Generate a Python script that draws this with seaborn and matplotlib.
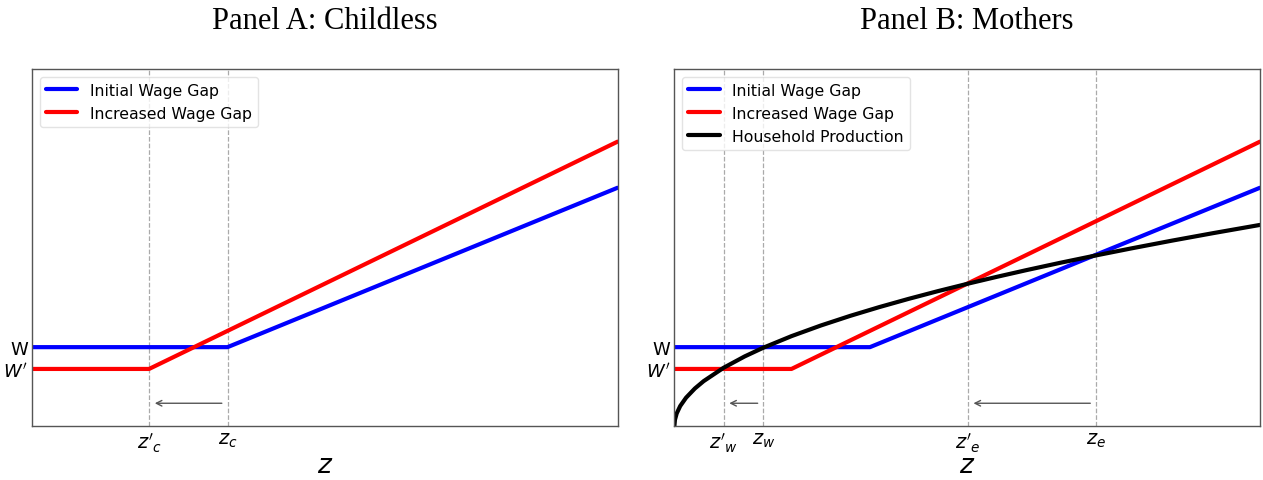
import matplotlib
matplotlib.use("Agg")
import matplotlib.pyplot as plt
import seaborn as sns

# values, in axis fractions (x and y both 0..1)
z_c_new, z_c = 0.2, 0.334
z_w_new, z_w = 0.084, 0.152
z_e_new, z_e = 0.501, 0.72
w_level, w_new_level = 0.221, 0.16
arrow_y = 0.064

# piecewise wage lines (x, y)
initial_x = [0.0, 0.334, 1.0]
initial_y = [0.221, 0.221, 0.667]
increased_x = [0.0, 0.2, 1.0]
increased_y = [0.16, 0.16, 0.796]

# household production curve, sampled from the right panel
household_x = [0.0, 0.001, 0.004, 0.01, 0.02, 0.035, 0.05, 0.084, 0.12, 0.152,
               0.2, 0.25, 0.3, 0.35, 0.4, 0.45, 0.501, 0.55, 0.6, 0.66,
               0.72, 0.78, 0.85, 0.92, 1.0]
household_y = [0.0, 0.0178, 0.0356, 0.0563, 0.0796, 0.1053, 0.1259, 0.1632, 0.195, 0.2195,
               0.2518, 0.2815, 0.3084, 0.3331, 0.3561, 0.3777, 0.3985, 0.4175, 0.4361, 0.4574,
               0.4777, 0.4972, 0.5191, 0.54, 0.563]

sns.set_style("white")
plt.rcParams['text.color'] = 'black'
plt.rcParams['xtick.color'] = 'black'
plt.rcParams['ytick.color'] = 'black'
plt.rcParams['axes.labelcolor'] = 'black'

fig, axes = plt.subplots(1, 2, figsize=(12.63, 4.81), dpi=100)
plt.subplots_adjust(left=0.0253, right=0.9976, bottom=0.112, top=0.855, wspace=0.097)


def setup(ax, title, xticks, xlabels):
    ax.set_xlim(0, 1)
    ax.set_ylim(0, 1)
    for z in xticks:
        ax.axvline(z, color='#aaaaaa', lw=0.9, ls='--', zorder=0)
    ax.set_xticks(xticks)
    ax.set_xticklabels(xlabels, fontsize=14)
    ax.set_yticks([w_new_level, w_level])
    ax.set_yticklabels(["$W'$", "W"], fontsize=13)
    ax.tick_params(axis='y', length=0, pad=3)
    ax.tick_params(axis='x', length=0, pad=3)
    ax.set_xlabel('$z$', fontsize=19, labelpad=-1)
    ax.set_ylabel('')
    ax.set_title(title, fontsize=22, family='Liberation Serif', pad=29)
    for s in ax.spines.values():
        s.set_color('#555555')
        s.set_linewidth(1.0)


# Panel A
ax = axes[0]
sns.lineplot(x=initial_x, y=initial_y, ax=ax, color='blue', lw=3, label='Initial Wage Gap')
sns.lineplot(x=increased_x, y=increased_y, ax=ax, color='red', lw=3, label='Increased Wage Gap')
ax.annotate('', xy=(z_c_new + 0.005, arrow_y), xytext=(z_c - 0.005, arrow_y),
            arrowprops=dict(arrowstyle='->', color='#555555', lw=1))
setup(ax, 'Panel A: Childless', [z_c_new, z_c], ["$z'_c$", "$z_c$"])
ax.legend(loc='upper left', fontsize=11.3, frameon=True, edgecolor='#dddddd')

# Panel B
ax = axes[1]
sns.lineplot(x=initial_x, y=initial_y, ax=ax, color='blue', lw=3, label='Initial Wage Gap')
sns.lineplot(x=increased_x, y=increased_y, ax=ax, color='red', lw=3, label='Increased Wage Gap')
sns.lineplot(x=household_x, y=household_y, ax=ax, color='black', lw=3, label='Household Production')
ax.annotate('', xy=(z_w_new + 0.005, arrow_y), xytext=(z_w - 0.005, arrow_y),
            arrowprops=dict(arrowstyle='->', color='#555555', lw=1))
ax.annotate('', xy=(z_e_new + 0.005, arrow_y), xytext=(z_e - 0.005, arrow_y),
            arrowprops=dict(arrowstyle='->', color='#555555', lw=1))
setup(ax, 'Panel B: Mothers', [z_w_new, z_w, z_e_new, z_e], ["$z'_w$", "$z_w$", "$z'_e$", "$z_e$"])
ax.legend(loc='upper left', fontsize=11.3, frameon=True, edgecolor='#dddddd')

plt.savefig('out.png', dpi=100)
